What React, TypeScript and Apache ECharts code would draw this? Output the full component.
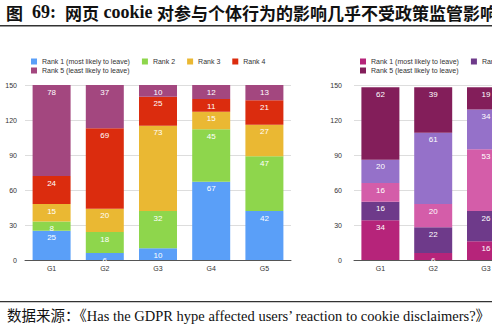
import React, { useEffect, useRef } from "react";
import * as echarts from "echarts";

const categories = ["G1", "G2", "G3", "G4", "G5"];
const rankNames = [
  "Rank 1 (most likely to leave)",
  "Rank 2",
  "Rank 3",
  "Rank 4",
  "Rank 5 (least likely to leave)",
];

// Left panel (values per rank, G1..G5)
const leftRank1 = [25, 6, 10, 67, 42];
const leftRank2 = [8, 18, 32, 45, 47];
const leftRank3 = [15, 20, 73, 15, 27];
const leftRank4 = [24, 69, 25, 11, 21];
const leftRank5 = [78, 37, 10, 12, 13];

// Right panel (only G1..G3 visible in the reference)
const rightRank1 = [34, 6, 16, null, null];
const rightRank2 = [16, 22, 26, null, null];
const rightRank3 = [16, 20, 53, null, null];
const rightRank4 = [20, 61, 34, null, null];
const rightRank5 = [62, 39, 19, null, null];

const yMin = 0;
const yMax = 150;
const yInterval = 30;

const leftColors = ["#5A9FF8", "#8ED64C", "#EAB833", "#DB2C0E", "#A3477F"];
const rightColors = ["#B6247A", "#6E3A8A", "#D45DA9", "#9571C9", "#831E5A"];

const titleText =
  "{c|图}{l|  69:  }{c|网页}{l| cookie }{c|对参与个体行为的影响几乎不受政策监管影响}";
const sourceText =
  "数据来源：《Has the GDPR hype affected users’ reaction to cookie disclaimers?》";

const SANS = "'Liberation Sans', Arial, sans-serif";
const SERIF = "'Liberation Serif', 'Noto Sans CJK SC', serif";
const CJK = "'Noto Sans CJK SC', sans-serif";

export default function App() {
  const ref = useRef<HTMLDivElement>(null);

  useEffect(() => {
    if (!ref.current) return;
    const chart = echarts.init(ref.current, undefined, { renderer: "svg" });

    const leftData = [leftRank1, leftRank2, leftRank3, leftRank4, leftRank5];
    const rightData = [rightRank1, rightRank2, rightRank3, rightRank4, rightRank5];

    const makeSeries = (data: (number | null)[][], colors: string[], idx: number) =>
      data.map((d, i) => ({
        type: "bar",
        name: rankNames[i],
        stack: "s" + idx,
        xAxisIndex: idx,
        yAxisIndex: idx,
        barWidth: 38,
        data: d,
        itemStyle: { color: colors[i] },
        label: {
          show: true,
          position: "insideTop",
          distance: 3,
          color: "#ffffff",
          fontSize: 8,
          fontFamily: SANS,
        },
      }));

    const legendItems = (names: string[], colors: string[], offset: number) =>
      names.map((n, i) => ({ name: n, itemStyle: { color: colors[i + offset] } }));

    const legendBase = {
      orient: "horizontal",
      itemWidth: 6,
      itemHeight: 6,
      itemGap: 12,
      icon: "rect",
      padding: 0,
      selectedMode: false,
      textStyle: { fontSize: 7, color: "#333", fontFamily: SANS },
    };

    const xAxisBase = {
      type: "category",
      data: categories,
      axisTick: { show: false },
      axisLine: { lineStyle: { color: "#555", width: 1 } },
      axisLabel: { fontSize: 7, color: "#333", margin: 5, fontFamily: SANS },
    };
    const yAxisBase = {
      type: "value",
      min: yMin,
      max: yMax,
      interval: yInterval,
      axisLine: { show: false },
      axisTick: { show: false },
      splitLine: { lineStyle: { color: "#dddddd", width: 1 } },
    };

    chart.setOption({
      animation: false,
      backgroundColor: "#ffffff",
      grid: [
        { left: 25, top: 85, width: 266, height: 175 },
        { left: 354, top: 85, width: 264, height: 175 },
      ],
      xAxis: [
        { ...xAxisBase, gridIndex: 0 },
        { ...xAxisBase, gridIndex: 1 },
      ],
      yAxis: [
        {
          ...yAxisBase,
          gridIndex: 0,
          axisLabel: { fontSize: 7, color: "#333", margin: 8, fontFamily: SANS },
        },
        {
          ...yAxisBase,
          gridIndex: 1,
          axisLabel: { fontSize: 7, color: "#333", margin: 12, fontFamily: SANS },
        },
      ],
      legend: [
        { ...legendBase, left: 31, top: 58, data: legendItems(rankNames.slice(0, 4), leftColors, 0) },
        { ...legendBase, left: 31, top: 67, data: legendItems(rankNames.slice(4), leftColors, 4) },
        { ...legendBase, left: 360, top: 58, data: legendItems(rankNames.slice(0, 4), rightColors, 0) },
        { ...legendBase, left: 360, top: 67, data: legendItems(rankNames.slice(4), rightColors, 4) },
      ],
      series: [...makeSeries(leftData, leftColors, 0), ...makeSeries(rightData, rightColors, 1)],
      graphic: [
        {
          type: "text",
          x: 6,
          y: 12,
          style: {
            text: titleText,
            verticalAlign: "middle",
            fill: "#111",
            rich: {
              c: { fontSize: 17, fontWeight: "bold", fontFamily: CJK, fill: "#111" },
              l: { fontSize: 18, fontWeight: "bold", fontFamily: SERIF, fill: "#111" },
            },
          },
        },
        { type: "rect", shape: { x: 0, y: 25, width: 720, height: 1.5 }, style: { fill: "#333" } },
        { type: "rect", shape: { x: 0, y: 301, width: 720, height: 1.2 }, style: { fill: "#333" } },
        {
          type: "text",
          x: 7,
          y: 316,
          style: {
            text: sourceText,
            verticalAlign: "middle",
            fontSize: 14.5,
            fontFamily: SERIF,
            fill: "#111",
          },
        },
      ],
    });

    return () => chart.dispose();
  }, []);

  return (
    <div
      style={{
        position: "fixed",
        left: 0,
        top: 0,
        width: 492,
        height: 326,
        overflow: "hidden",
        background: "#fff",
      }}
    >
      <div ref={ref} style={{ width: 720, height: 326 }} />
    </div>
  );
}
